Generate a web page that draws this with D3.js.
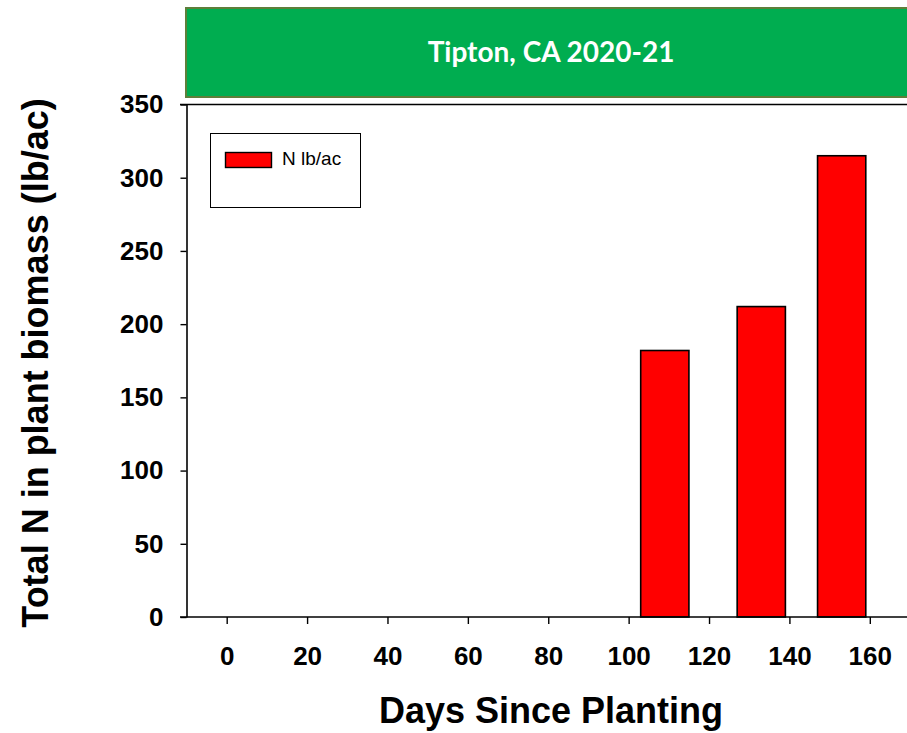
<!DOCTYPE html>
<html>
<head>
<meta charset="utf-8">
<script src="https://cdn.jsdelivr.net/npm/d3@7/dist/d3.min.js"></script>
<style>
  html, body { margin: 0; padding: 0; background: #fff; }
  svg { display: block; }
</style>
</head>
<body>
<svg id="chart" width="907" height="733"></svg>
<script>
// Sampling dates (days since planting) and total N in plant biomass (lb/ac)
const days = [109, 133, 153];
const nValues = [182, 212, 315];
const seriesName = "N lb/ac";
const xTicks = [0, 20, 40, 60, 80, 100, 120, 140, 160];
const yTicks = [0, 50, 100, 150, 200, 250, 300, 350];
const title = "Tipton, CA 2020-21";
const xTitle = "Days Since Planting";
const yTitle = "Total N in plant biomass (lb/ac)";

const svg = d3.select("#chart");
const plotLeft = 186.5, plotRight = 910, plotTop = 104.5, plotBottom = 617;
const barDays = 12; // bar width in days
const sans = "'Liberation Sans', Arial, sans-serif";

const x = d3.scaleLinear().domain([-10, 170]).range([plotLeft, plotRight]);
const y = d3.scaleLinear().domain([0, 350]).range([plotBottom, plotTop]);

// Title banner
svg.append("rect")
  .attr("x", 186).attr("y", 8).attr("width", 740).attr("height", 89)
  .attr("fill", "#00AD50").attr("stroke", "#5E7F3A").attr("stroke-width", 2);
svg.append("text")
  .attr("x", 551).attr("y", 55)
  .attr("text-anchor", "middle").attr("dominant-baseline", "middle")
  .attr("fill", "#fff")
  .style("font-family", "Lato, 'Open Sans', sans-serif")
  .style("font-weight", "bold").style("font-size", "28px")
  .text(title);

// Bars
svg.append("g").selectAll("rect")
  .data(days.map((d, i) => ({ day: d, v: nValues[i] })))
  .join("rect")
  .attr("x", d => x(d.day - barDays / 2))
  .attr("width", d => x(d.day + barDays / 2) - x(d.day - barDays / 2))
  .attr("y", d => y(d.v))
  .attr("height", d => y(0) - y(d.v))
  .attr("fill", "#FF0000").attr("stroke", "#000").attr("stroke-width", 1.6);

// Top frame line
svg.append("line")
  .attr("x1", 180).attr("x2", 907).attr("y1", plotTop).attr("y2", plotTop)
  .attr("stroke", "#000").attr("stroke-width", 1.6);

// Y axis
const yAxis = svg.append("g")
  .attr("transform", `translate(${plotLeft},0)`)
  .call(d3.axisLeft(y).tickValues(yTicks).tickSize(6).tickPadding(17).tickSizeOuter(0));
yAxis.select(".domain").attr("stroke-width", 1.6);
yAxis.selectAll(".tick line").attr("stroke-width", 1.4);
yAxis.selectAll("text")
  .style("font-family", sans)
  .style("font-weight", "bold").style("font-size", "26px").attr("fill", "#000");

// X axis
const xAxis = svg.append("g")
  .attr("transform", `translate(0,${plotBottom})`)
  .call(d3.axisBottom(x).tickValues(xTicks).tickSize(7).tickPadding(23).tickSizeOuter(0));
xAxis.select(".domain").attr("d", `M180,0H907`).attr("stroke-width", 1.6);
xAxis.selectAll(".tick line").attr("stroke-width", 1.4);
xAxis.selectAll("text")
  .style("font-family", sans)
  .style("font-weight", "bold").style("font-size", "26px").attr("fill", "#000");

// Axis titles
svg.append("text")
  .attr("x", 551).attr("y", 713)
  .attr("text-anchor", "middle").attr("dominant-baseline", "middle")
  .style("font-family", sans)
  .style("font-weight", "bold").style("font-size", "36px")
  .text(xTitle);
svg.append("text")
  .attr("transform", "translate(38,363) rotate(-90)")
  .attr("text-anchor", "middle").attr("dominant-baseline", "middle")
  .style("font-family", sans)
  .style("font-weight", "bold").style("font-size", "36px")
  .text(yTitle);

// Legend
const legend = svg.append("g");
legend.append("rect")
  .attr("x", 210.5).attr("y", 133.5).attr("width", 150).attr("height", 74)
  .attr("fill", "#fff").attr("stroke", "#000").attr("stroke-width", 1);
legend.append("rect")
  .attr("x", 225.5).attr("y", 152.5).attr("width", 46).attr("height", 15)
  .attr("fill", "#FF0000").attr("stroke", "#000").attr("stroke-width", 1.4);
legend.append("text")
  .attr("x", 282).attr("y", 160)
  .attr("dominant-baseline", "middle")
  .style("font-family", sans)
  .style("font-size", "19px")
  .text(seriesName);
</script>
</body>
</html>
